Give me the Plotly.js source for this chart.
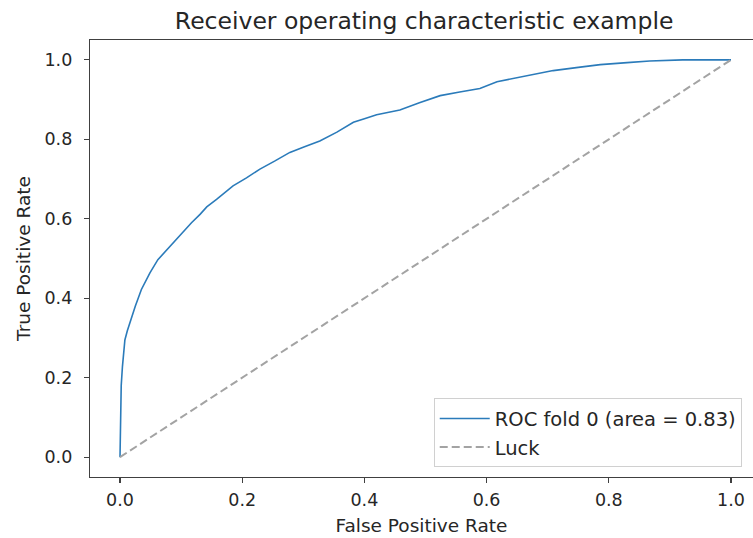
<!DOCTYPE html>
<html>
<head>
<meta charset="utf-8">
<script src="https://cdn.plot.ly/plotly-3.0.1.min.js"></script>
<style>html,body{margin:0;padding:0;background:#fff;}#chart{width:753px;height:538px;}</style>
</head>
<body>
<div id="chart"></div>
<script>
var fpr = [0, 0.001, 0.002, 0.004, 0.008, 0.012, 0.016, 0.025, 0.035, 0.049, 0.062, 0.072, 0.082, 0.093, 0.103, 0.117, 0.131, 0.142, 0.158, 0.185, 0.207, 0.229, 0.253, 0.278, 0.302, 0.327, 0.355, 0.382, 0.400, 0.420, 0.440, 0.458, 0.490, 0.524, 0.556, 0.589, 0.617, 0.660, 0.709, 0.750, 0.786, 0.830, 0.867, 0.921, 0.960, 1.0];
var tpr = [0, 0.100, 0.180, 0.228, 0.295, 0.318, 0.338, 0.380, 0.422, 0.464, 0.497, 0.514, 0.531, 0.548, 0.565, 0.590, 0.611, 0.630, 0.649, 0.683, 0.703, 0.725, 0.745, 0.767, 0.781, 0.796, 0.818, 0.843, 0.852, 0.862, 0.868, 0.874, 0.892, 0.910, 0.919, 0.928, 0.945, 0.958, 0.973, 0.981, 0.988, 0.993, 0.997, 1.0, 1.0, 1.0];
var luckX = [0, 1];
var luckY = [0, 1];
var rocName = "ROC fold 0 (area = 0.83)";
var luckName = "Luck";
var tickVals = [0, 0.2, 0.4, 0.6, 0.8, 1.0];
var tickText = ["0.0", "0.2", "0.4", "0.6", "0.8", "1.0"];

var font = "DejaVu Sans, sans-serif";
var traces = [
  {x: fpr, y: tpr, mode: "lines", name: rocName, line: {color: "#2b7bba", width: 1.6}},
  {x: luckX, y: luckY, mode: "lines", name: luckName, line: {color: "#a3a3a3", width: 2, dash: "8px,4px"}}
];
var axisCommon = {
  showgrid: false, zeroline: false, showline: true, linecolor: "#404040", linewidth: 1.2,
  ticks: "outside", ticklen: 5, tickcolor: "#404040", tickwidth: 1.2,
  tickvals: tickVals, ticktext: tickText,
  tickfont: {family: font, size: 17.5, color: "#262626"}
};
var layout = {
  width: 753, height: 538,
  margin: {l: 90, r: 0, t: 40, b: 61},
  paper_bgcolor: "#fff", plot_bgcolor: "#fff",
  title: {text: "Receiver operating characteristic example", font: {family: font, size: 23.5, color: "#262626"}, x: 0.504, xref: "paper", y: 0.962, yanchor: "middle"},
  xaxis: Object.assign({}, axisCommon, {range: [-0.0491, 1.036], mirror: true, ticklabelstandoff: 2,
    title: {text: "False Positive Rate", font: {family: font, size: 18.5, color: "#262626"}, standoff: 9}}),
  yaxis: Object.assign({}, axisCommon, {range: [-0.05, 1.05], ticklabelstandoff: 8,
    title: {text: "True Positive Rate", font: {family: font, size: 18.5, color: "#262626"}, standoff: 9}}),
  showlegend: true,
  legend: {x: 0.983, y: 0.022, xanchor: "right", yanchor: "bottom", bgcolor: "rgba(255,255,255,0.85)",
    bordercolor: "#d0d0d0", borderwidth: 1, font: {family: font, size: 19.5, color: "#262626"}, tracegroupgap: 0, itemwidth: 50}
};
Plotly.newPlot("chart", traces, layout, {displayModeBar: false, staticPlot: true});
</script>
</body>
</html>
